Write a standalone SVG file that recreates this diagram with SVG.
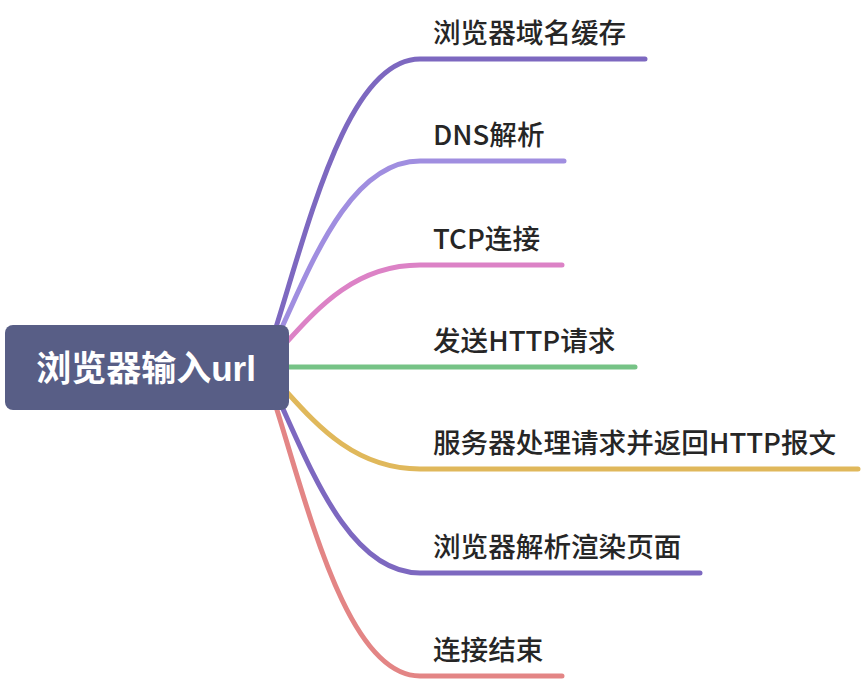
<svg xmlns="http://www.w3.org/2000/svg" width="862" height="680" viewBox="0 0 862 680">
<style>
.c{fill:none;stroke-width:5;stroke-linecap:round;stroke-linejoin:round}
.t{font-family:"Noto Sans CJK SC","Liberation Sans",sans-serif;font-size:27.6px;font-weight:500;fill:#262626}
.r{font-family:"Liberation Sans","Noto Sans CJK SC",sans-serif;font-size:35px;font-weight:bold;fill:#ffffff}
</style>
<rect width="862" height="680" fill="#ffffff"/>
<g id="connectors">
<path class="c" stroke="#7d68c0" d="M263 367 C301 260 340 59 420 59 L645 59"/>
<path class="c" stroke="#a08ee0" d="M263 367 C301 295 340 161 420 161 L564 161"/>
<path class="c" stroke="#dc82c6" d="M263 367 C301 331 340 265 420 265 L562 265"/>
<path class="c" stroke="#76c386" d="M263 367 L635 367"/>
<path class="c" stroke="#e0b85b" d="M263 367 C301 403 340 469 420 469 L858 469"/>
<path class="c" stroke="#7d68c0" d="M263 367 C301 439 340 573 420 573 L700 573"/>
<path class="c" stroke="#e38585" d="M263 367 C301 474 340 676 420 676 L562 676"/>
</g>
<g id="root">
<rect x="5" y="325" width="284" height="85" rx="8" fill="#585e86"/>
<text class="r" x="146" y="381" text-anchor="middle">浏览器输入url</text>
</g>
<g id="n1"><text class="t" x="433" y="43">浏览器域名缓存</text></g>
<g id="n2"><text class="t" x="433" y="145">DNS解析</text></g>
<g id="n3"><text class="t" x="433" y="249">TCP连接</text></g>
<g id="n4"><text class="t" x="433" y="351">发送HTTP请求</text></g>
<g id="n5"><text class="t" x="433" y="453">服务器处理请求并返回HTTP报文</text></g>
<g id="n6"><text class="t" x="433" y="557">浏览器解析渲染页面</text></g>
<g id="n7"><text class="t" x="433" y="660">连接结束</text></g>
</svg>
